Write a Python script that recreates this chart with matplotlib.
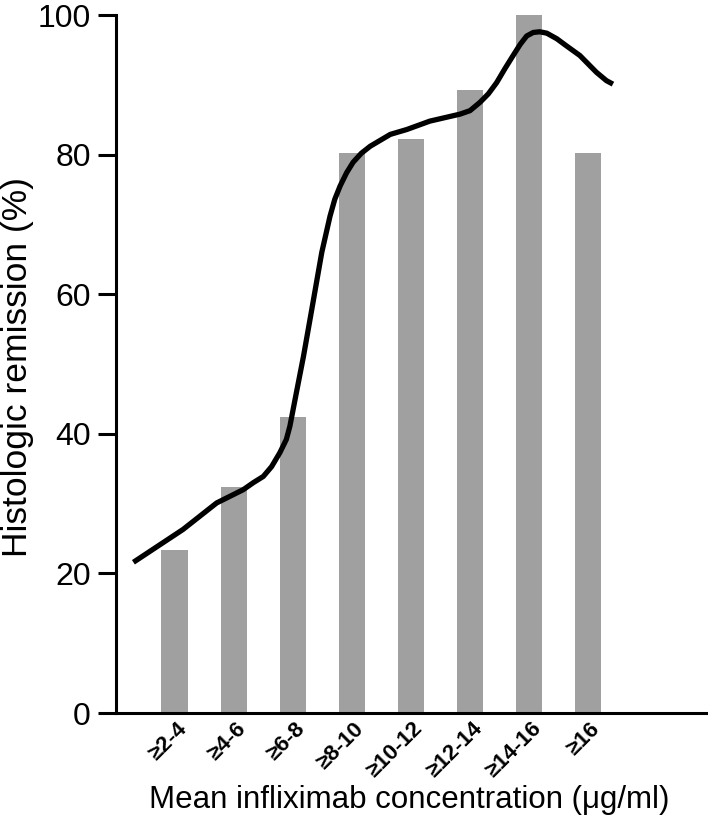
import matplotlib.pyplot as plt
import matplotlib.transforms as mtransforms
import numpy as np

plt.rcParams['font.family'] = ['Liberation Sans', 'DejaVu Sans']

# bar data
groups = ["≥2-4", "≥4-6", "≥6-8", "≥8-10", "≥10-12", "≥12-14", "≥14-16", "≥16"]
remission = [23.4, 32.4, 42.4, 80.3, 82.3, 89.3, 100, 80.3]

# smoothed trend curve (x in bar-index units)
curve_x = [-0.70, 0.14, 0.71, 1.16, 1.33, 1.50, 1.64, 1.78, 1.89, 1.95, 2.06,
           2.18, 2.32, 2.49, 2.63, 2.71, 2.80, 2.91, 3.02, 3.16, 3.31, 3.65,
           3.93, 4.32, 4.83, 5.00, 5.17, 5.31, 5.45, 5.59, 5.73, 5.85, 5.96,
           6.07, 6.18, 6.30, 6.47, 6.63, 6.86, 7.14, 7.31, 7.42]
curve_y = [21.6, 26.3, 30.1, 32.0, 33.0, 33.9, 35.3, 37.3, 39.2, 41.1, 45.9,
           51.1, 57.8, 66.0, 71.2, 73.6, 75.5, 77.4, 78.9, 80.2, 81.2, 82.9,
           83.6, 84.8, 85.8, 86.3, 87.5, 88.7, 90.3, 92.3, 94.2, 95.8, 97.0,
           97.5, 97.6, 97.4, 96.6, 95.6, 94.2, 91.8, 90.6, 90.1]

yticks = [0, 20, 40, 60, 80, 100]

fig = plt.figure(figsize=(7.08, 8.21), dpi=100)
ax = fig.add_axes([0.1634, 0.1315, 0.8366, 0.8502])

pos = np.arange(len(groups))
ax.bar(pos, remission, width=0.45, color="#a0a0a0", clip_on=False, zorder=2)
ax.plot(curve_x, curve_y, color="black", lw=3.8, solid_capstyle="butt",
        solid_joinstyle="round", zorder=3, clip_on=False)

ax.set_xlim(-1, 9.03)
ax.set_ylim(0, 100)

for s in ["top", "right"]:
    ax.spines[s].set_visible(False)
for s in ["left", "bottom"]:
    ax.spines[s].set_linewidth(2.2)

ax.set_yticks(yticks)
ax.tick_params(axis="y", length=13, width=2.2, pad=5, labelsize=23)
ax.set_xticks(pos)
ax.set_xticklabels(groups, rotation=45, ha="right", va="center",
                   rotation_mode="anchor", fontsize=16, fontweight="bold")
ax.tick_params(axis="x", length=0, pad=9)
shift = mtransforms.ScaledTranslation(9 / 100, 0, fig.dpi_scale_trans)
for lbl in ax.get_xticklabels():
    lbl.set_transform(lbl.get_transform() + shift)

fig.text(18 / 708, 1 - 367 / 821, "Histologic remission (%)", rotation=90,
         ha="center", va="center", fontsize=25.5)
fig.text(409 / 708, 1 - 800 / 821, "Mean infliximab concentration (μg/ml)",
         ha="center", va="center", fontsize=22.5)

fig.savefig("out.png", dpi=100)
